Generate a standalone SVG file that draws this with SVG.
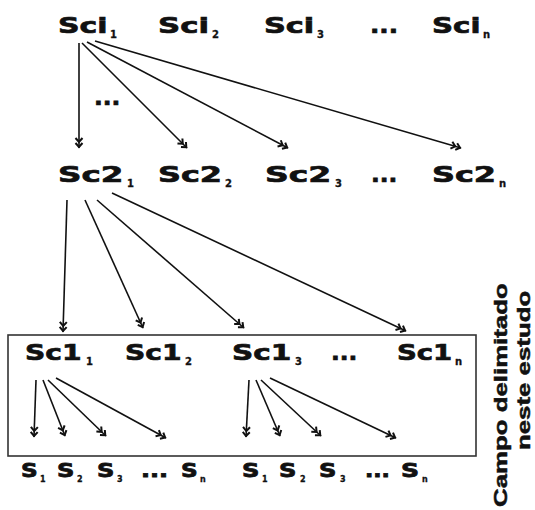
<svg xmlns="http://www.w3.org/2000/svg" width="535" height="510" viewBox="0 0 535 510">
<style>
text{font-family:"DejaVu Sans","Liberation Sans",sans-serif;font-weight:bold;fill:#111}
.l{font-size:22px;stroke:#111;stroke-width:0.7}
.s{font-size:10px;stroke:#111;stroke-width:0.3}
.s4{font-size:19px;stroke:#111;stroke-width:0.8}
.ss{font-size:8px;stroke:#111;stroke-width:0.3}
.v{font-family:"Liberation Sans",Arial,sans-serif;font-size:19px;stroke:#111;stroke-width:0.5}
.c line{stroke:#111;stroke-width:1.6;marker-end:url(#a)}
</style>
<defs>
<marker id="a" markerUnits="userSpaceOnUse" markerWidth="14" markerHeight="12" viewBox="-12 -6 14 12" refX="0" refY="0" orient="auto">
<path d="M-10,-3.5 L-6,0 L-10,3.5 M-5,-3.5 L-1,0 L-5,3.5" fill="none" stroke="#111" stroke-width="2"/>
</marker>
</defs>
<g id="row1">
<g id="sci1"><text class="l" transform="translate(58,33) scale(1.36,1)">Sci</text><text class="s" x="110" y="38">1</text></g>
<g id="sci2"><text class="l" transform="translate(158,33) scale(1.4,1)">Sci</text><text class="s" x="212" y="38">2</text></g>
<g id="sci3"><text class="l" transform="translate(264,33) scale(1.38,1)">Sci</text><text class="s" x="317" y="38">3</text></g>
<g id="sciDots"><text class="l" transform="translate(370,33) scale(1.12,1)">...</text></g>
<g id="scin"><text class="l" transform="translate(432,33) scale(1.33,1)">Sci</text><text class="s" x="483" y="38">n</text></g>
</g>
<g id="midDots"><text class="l" transform="translate(94,105) scale(1.05,1)">...</text></g>
<g id="row2">
<g id="sc2_1"><text class="l" transform="translate(58,182) scale(1.48,1)">Sc2</text><text class="s" x="127" y="187">1</text></g>
<g id="sc2_2"><text class="l" transform="translate(158,182) scale(1.45,1)">Sc2</text><text class="s" x="225" y="187">2</text></g>
<g id="sc2_3"><text class="l" transform="translate(265,182) scale(1.5,1)">Sc2</text><text class="s" x="335" y="187">3</text></g>
<g id="sc2Dots"><text class="l" transform="translate(371,182) scale(1.05,1)">...</text></g>
<g id="sc2_n"><text class="l" transform="translate(432,182) scale(1.45,1)">Sc2</text><text class="s" x="499" y="187">n</text></g>
</g>
<g id="field">
<rect x="8" y="335" width="468" height="121" fill="none" stroke="#333" stroke-width="1.6"/>
</g>
<g id="row3">
<g id="sc1_1"><text class="l" transform="translate(25,360) scale(1.28,1)">Sc1</text><text class="s" x="86" y="365">1</text></g>
<g id="sc1_2"><text class="l" transform="translate(125,360) scale(1.28,1)">Sc1</text><text class="s" x="185" y="365">2</text></g>
<g id="sc1_3"><text class="l" transform="translate(232,360) scale(1.34,1)">Sc1</text><text class="s" x="295" y="365">3</text></g>
<g id="sc1Dots"><text class="l" transform="translate(331,360) scale(1.05,1)">...</text></g>
<g id="sc1_n"><text class="l" transform="translate(397,360) scale(1.25,1)">Sc1</text><text class="s" x="455" y="365">n</text></g>
</g>
<g id="row4a">
<g id="s1a"><text class="s4" transform="translate(21,477) scale(1.22,1)">S</text><text class="ss" x="40" y="482">1</text></g>
<g id="s2a"><text class="s4" transform="translate(57,477) scale(1.27,1)">S</text><text class="ss" x="77" y="482">2</text></g>
<g id="s3a"><text class="s4" transform="translate(97,477) scale(1.27,1)">S</text><text class="ss" x="117" y="482">3</text></g>
<g id="sDotsA"><text class="s4" transform="translate(141,477) scale(1.25,1)">...</text></g>
<g id="sna"><text class="s4" transform="translate(181,477) scale(1.22,1)">S</text><text class="ss" x="200" y="482">n</text></g>
</g>
<g id="row4b">
<g id="s1b"><text class="s4" transform="translate(242,477) scale(1.27,1)">S</text><text class="ss" x="262" y="482">1</text></g>
<g id="s2b"><text class="s4" transform="translate(279,477) scale(1.27,1)">S</text><text class="ss" x="300" y="482">2</text></g>
<g id="s3b"><text class="s4" transform="translate(319,477) scale(1.27,1)">S</text><text class="ss" x="340" y="482">3</text></g>
<g id="sDotsB"><text class="s4" transform="translate(365,477) scale(1.15,1)">...</text></g>
<g id="snb"><text class="s4" transform="translate(401,477) scale(1.32,1)">S</text><text class="ss" x="422" y="482">n</text></g>
</g>
<g id="vlabel">
<text class="v" transform="translate(507,507) rotate(-90) scale(1.36,1)">Campo delimitado</text>
<text class="v" transform="translate(530,450) rotate(-90) scale(1.36,1)">neste estudo</text>
</g>
<g id="connectors" class="c">
<line x1="79" y1="43" x2="79" y2="148"/>
<line x1="82" y1="43" x2="187" y2="148"/>
<line x1="87" y1="42" x2="288" y2="148"/>
<line x1="95" y1="41" x2="461" y2="148"/>
<line x1="67" y1="200" x2="63" y2="332"/>
<line x1="85" y1="200" x2="143" y2="328"/>
<line x1="97" y1="200" x2="244" y2="328"/>
<line x1="112" y1="193" x2="406" y2="331"/>
<line x1="36" y1="380" x2="34" y2="437"/>
<line x1="43" y1="380" x2="65" y2="436"/>
<line x1="48" y1="380" x2="106" y2="436"/>
<line x1="56" y1="378" x2="166" y2="438"/>
<line x1="249" y1="380" x2="246" y2="437"/>
<line x1="256" y1="380" x2="280" y2="436"/>
<line x1="261" y1="380" x2="321" y2="436"/>
<line x1="270" y1="378" x2="396" y2="438"/>
</g>
</svg>
